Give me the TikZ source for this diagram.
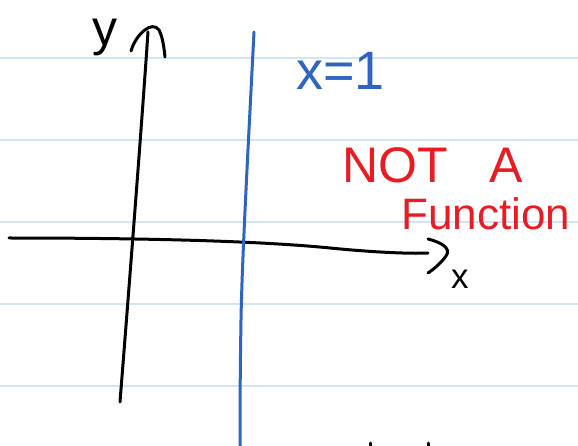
\documentclass[tikz,border=0pt]{standalone}
\usepackage{fontspec}
\setmainfont{Liberation Sans}
\usepackage{tikz}
\definecolor{rulecolor}{RGB}{208,230,247}
\definecolor{penblue}{RGB}{47,100,193}
\definecolor{penred}{RGB}{233,28,36}

\begin{document}
\begin{tikzpicture}[x=1pt,y=-1pt,
  ruled/.style={line width=1.3pt,rulecolor},
  pen/.style={line width=3pt,black,line cap=round,line join=round},
  bluepen/.style={line width=3pt,penblue,line cap=round},
  note/.style={inner sep=0pt,anchor=base west}
]
\fill[white] (0,0) rectangle (578,446);
\useasboundingbox (0,0) rectangle (578,446);
% ruled paper
\foreach \ry in {58,140,222,304,386}
  \draw[ruled] (0,\ry) -- (578,\ry);
% axes
\coordinate (ybot) at (120,402);
\coordinate (ytop) at (148,32);
\coordinate (xleft) at (9,238);
\coordinate (xright) at (428,253);
\draw[pen] (ybot) .. controls (132,250) and (142,120) .. (ytop);
\draw[pen] (131,51) .. controls (136,34) and (152,20) .. (159,30)
  .. controls (163,38) and (164,48) .. (165,57);
\draw[pen] (xleft) .. controls (120,238) and (250,240) .. (330,248)
  .. controls (370,252) and (410,254) .. (xright);
\draw[pen] (428,239) .. controls (440,242) and (452,248) .. (446,256)
  .. controls (441,263) and (434,269) .. (428,273);
% vertical line x=1
\coordinate (vtop) at (254,32);
\coordinate (vbot) at (240,446);
\draw[bluepen] (vtop) .. controls (248,150) and (242,260) .. (241,320)
  .. controls (240,380) and (240,420) .. (vbot);
% labels
\node[note,font=\fontsize{50}{50}\selectfont] (ylabel) at (92,46) {y};
\node[note,font=\fontsize{35}{35}\selectfont] (xlabel) at (451,288) {x};
\node[note,font=\fontsize{54}{54}\selectfont,text=penblue] (eqn) at (296,90) {x=1};
\node[note,font=\fontsize{50}{50}\selectfont,text=penred] (nota) at (342,183) {NOT\hspace{42pt}A};
\node[note,font=\fontsize{44}{44}\selectfont,text=penred] (func) at (401,230) {Function};
% cut-off strokes at the bottom edge
\draw[pen] (370,443) -- (370,447);
\draw[pen] (428,443) -- (428,447);
\end{tikzpicture}
\end{document}
